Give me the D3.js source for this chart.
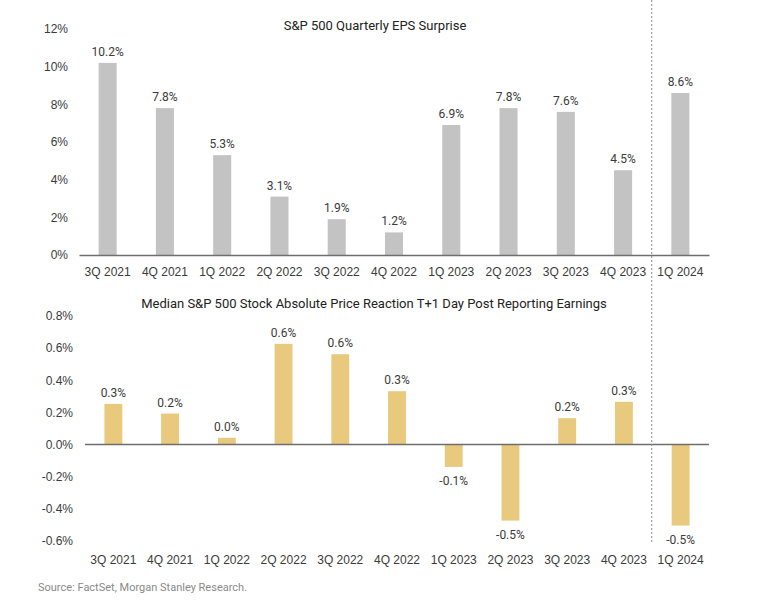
<!DOCTYPE html>
<html>
<head>
<meta charset="utf-8">
<script src="https://cdn.jsdelivr.net/npm/d3@7"></script>
<style>
  html, body { margin: 0; padding: 0; background: #fff; }
  svg { display: block; font-family: Roboto, "Noto Sans", Arial, sans-serif; }
</style>
</head>
<body>
<svg id="chart" width="758" height="611"></svg>
<script>
const categories = ["3Q 2021","4Q 2021","1Q 2022","2Q 2022","3Q 2022","4Q 2022","1Q 2023","2Q 2023","3Q 2023","4Q 2023","1Q 2024"];
const epsSurprise = [10.2, 7.8, 5.3, 3.1, 1.9, 1.2, 6.9, 7.8, 7.6, 4.5, 8.6];
const priceReaction = [0.253, 0.193, 0.042, 0.627, 0.562, 0.332, -0.139, -0.473, 0.164, 0.266, -0.504];
const topTicks = [0, 2, 4, 6, 8, 10, 12];
const bottomTicks = [-0.6, -0.4, -0.2, 0.0, 0.2, 0.4, 0.6, 0.8];
const topTitle = "S&P 500 Quarterly EPS Surprise";
const bottomTitle = "Median S&P 500 Stock Absolute Price Reaction T+1 Day Post Reporting Earnings";
const sourceText = "Source: FactSet, Morgan Stanley Research.";

const svg = d3.select("#chart");
const textColor = "#3a3a3a";
const pct1 = d => d3.format(".1f")(d).replace("\u2212", "-") + "%";

// ---------- Top chart ----------
const xTop = d3.scaleBand().domain(categories).range([79, 709]).paddingInner(0.685).paddingOuter(0.3425);
const yTop = d3.scaleLinear().domain([0, 12]).range([255, 29]);

svg.append("text").attr("x", 375).attr("y", 30).attr("text-anchor", "middle")
  .attr("font-size", 13).attr("fill", "#222").text(topTitle);

const gTopY = svg.append("g").attr("transform", "translate(68,0)")
  .call(d3.axisLeft(yTop).tickValues(topTicks).tickSize(0).tickPadding(0).tickFormat(d => d + "%"));
gTopY.select(".domain").remove();
gTopY.selectAll("text").attr("font-size", 12).attr("fill", textColor).attr("font-family", null);

svg.append("g").selectAll("rect").data(epsSurprise).join("rect")
  .attr("x", (d, i) => xTop(categories[i]))
  .attr("width", xTop.bandwidth())
  .attr("y", d => yTop(d))
  .attr("height", d => yTop(0) - yTop(d))
  .attr("fill", "#c3c3c3");

svg.append("g").selectAll("text").data(epsSurprise).join("text")
  .attr("x", (d, i) => xTop(categories[i]) + xTop.bandwidth() / 2)
  .attr("y", d => yTop(d) - 7)
  .attr("text-anchor", "middle").attr("font-size", 12).attr("fill", textColor)
  .text(pct1);

const gTopX = svg.append("g").attr("transform", `translate(0,${yTop(0)})`)
  .call(d3.axisBottom(xTop).tickSize(0).tickPadding(12));
gTopX.select(".domain").attr("stroke", "#6e6e6e").attr("stroke-width", 1.5);
gTopX.selectAll("text").attr("font-size", 12).attr("fill", textColor).attr("font-family", null);

// ---------- Bottom chart ----------
const xBot = d3.scaleBand().domain(categories).range([85, 709]).paddingInner(0.685).paddingOuter(0.3425);
const yBot = d3.scaleLinear().domain([-0.6, 0.8]).range([541, 316]);

svg.append("text").attr("x", 374).attr("y", 308).attr("text-anchor", "middle")
  .attr("font-size", 13).attr("fill", "#222").text(bottomTitle);

const gBotY = svg.append("g").attr("transform", "translate(73,0)")
  .call(d3.axisLeft(yBot).tickValues(bottomTicks).tickSize(0).tickPadding(0).tickFormat(pct1));
gBotY.select(".domain").remove();
gBotY.selectAll("text").attr("font-size", 12).attr("fill", textColor).attr("font-family", null);

svg.append("g").selectAll("rect").data(priceReaction).join("rect")
  .attr("x", (d, i) => xBot(categories[i]))
  .attr("width", xBot.bandwidth())
  .attr("y", d => yBot(Math.max(0, d)))
  .attr("height", d => Math.abs(yBot(d) - yBot(0)))
  .attr("fill", "#e8c97d");

svg.append("g").selectAll("text").data(priceReaction).join("text")
  .attr("x", (d, i) => xBot(categories[i]) + xBot.bandwidth() / 2)
  .attr("y", d => d >= 0 ? yBot(d) - 7 : yBot(d) + 18)
  .attr("text-anchor", "middle").attr("font-size", 12).attr("fill", textColor)
  .text(pct1);

svg.append("line").attr("x1", 85).attr("x2", 709).attr("y1", yBot(0)).attr("y2", yBot(0))
  .attr("stroke", "#6e6e6e").attr("stroke-width", 1.5);

svg.append("g").attr("transform", "translate(0,547)")
  .call(d3.axisBottom(xBot).tickSize(0).tickPadding(8))
  .call(g => g.select(".domain").remove())
  .selectAll("text").attr("font-size", 12).attr("fill", textColor).attr("font-family", null);

// ---------- Divider ----------
const divX = (xTop(categories[9]) + xTop.bandwidth() / 2 + xTop(categories[10]) + xTop.bandwidth() / 2) / 2;
svg.append("line").attr("x1", divX).attr("x2", divX).attr("y1", 0).attr("y2", 542)
  .attr("stroke", "#888").attr("stroke-width", 1).attr("stroke-dasharray", "2,2");

// ---------- Source ----------
svg.append("text").attr("x", 38).attr("y", 591).attr("font-size", 11).attr("fill", "#8a8a8a").text(sourceText);
</script>
</body>
</html>
